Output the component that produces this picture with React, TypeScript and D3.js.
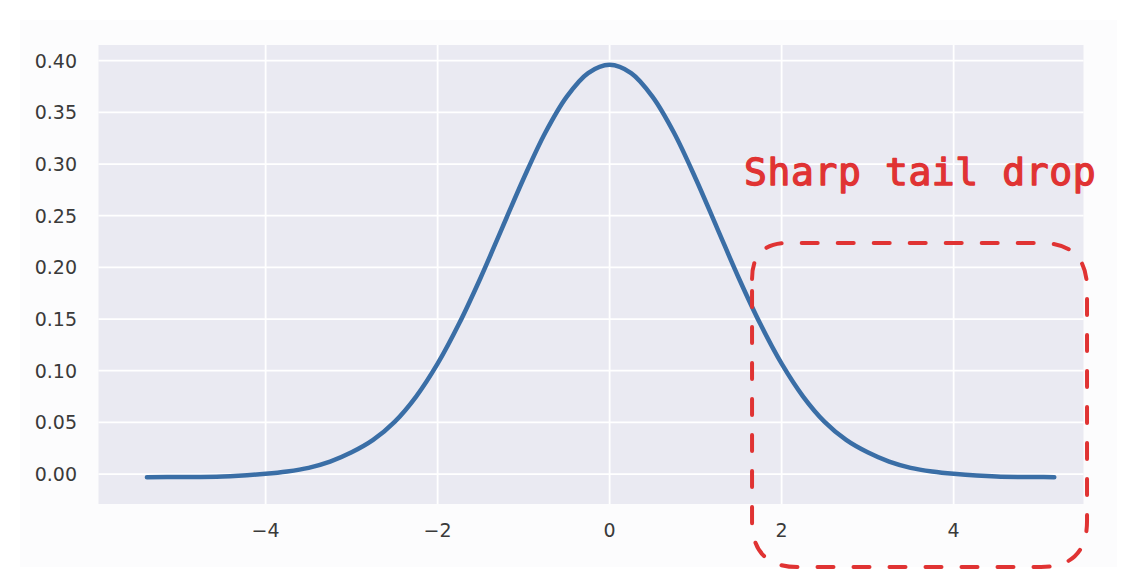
import React from "react";
import * as d3 from "d3";

const xs = [-5.38, -5.0, -4.5, -4.0, -3.75, -3.5, -3.25, -3.0, -2.75, -2.5, -2.25, -2.0, -1.75, -1.5, -1.25, -1.0, -0.75, -0.5, -0.25, 0.0, 0.25, 0.5, 0.75, 1.0, 1.25, 1.5, 1.75, 2.0, 2.25, 2.5, 2.75, 3.0, 3.25, 3.5, 3.75, 4.0, 4.5, 5.0, 5.17];
const ys = [-0.003, -0.0029, -0.0024, 0.0003, 0.0025, 0.006, 0.012, 0.021, 0.033, 0.0505, 0.075, 0.1068, 0.1456, 0.19, 0.238, 0.286, 0.33, 0.365, 0.388, 0.396, 0.388, 0.365, 0.33, 0.286, 0.238, 0.19, 0.1456, 0.1068, 0.075, 0.0505, 0.033, 0.021, 0.012, 0.006, 0.0025, 0.0003, -0.0024, -0.0029, -0.003];

const xTicks = [-4, -2, 0, 2, 4];
const yTicks = [0, 0.05, 0.1, 0.15, 0.2, 0.25, 0.3, 0.35, 0.4];

const xDomain = [-5.943, 5.51];
const yDomain = [-0.029, 0.4152];

const annotationText = "Sharp tail drop";
const annotationTextPos = { x: 1.563, y: 0.2797 };
const boxData = { x0: 1.656, x1: 5.551, y0: 0.2236, y1: -0.09 };

export default function App() {
  const W = 1136, H = 588;
  const left = 98.5, right = 1083.5, top = 45, bottom = 504;
  const x = d3.scaleLinear().domain(xDomain).range([left, right]);
  const y = d3.scaleLinear().domain(yDomain).range([bottom, top]);
  const pts: [number, number][] = xs.map((v, i) => [v, ys[i]]);
  const line = d3.line<[number, number]>().x(d => x(d[0])).y(d => y(d[1])).curve(d3.curveCatmullRom.alpha(0.5));

  const bx0 = x(boxData.x0), bx1 = x(boxData.x1), by0 = y(boxData.y0), by1 = y(boxData.y1);
  const rTL = 36, rTR = 46, rBR = 46, rBL = 46;
  const boxPath = `M${bx0},${by0 + rTL} Q${bx0},${by0} ${bx0 + rTL},${by0} L${bx1 - rTR},${by0} Q${bx1},${by0} ${bx1},${by0 + rTR} L${bx1},${by1 - rBR} Q${bx1},${by1} ${bx1 - rBR},${by1} L${bx0 + rBL},${by1} Q${bx0},${by1} ${bx0},${by1 - rBL} Z`;

  const fmt = d3.format(".2f");
  const fmtX = (v: number) => (v < 0 ? "\u2212" + Math.abs(v) : String(v));

  return (
    <svg width={W} height={H} style={{ position: "absolute", left: 0, top: 0, display: "block", background: "#ffffff" }}>
      <rect x={20} y={20} width={1097} height={547} fill="#fcfcfd" />
      <rect x={left} y={top} width={right - left} height={bottom - top} fill="#eaeaf2" />
      {yTicks.map(t => (
        <line key={"gy" + t} x1={left} x2={right} y1={y(t)} y2={y(t)} stroke="#ffffff" strokeWidth={1.8} />
      ))}
      {xTicks.map(t => (
        <line key={"gx" + t} x1={x(t)} x2={x(t)} y1={top} y2={bottom} stroke="#ffffff" strokeWidth={1.8} />
      ))}
      {yTicks.map(t => (
        <text key={"ty" + t} x={77} y={y(t)} textAnchor="end" dominantBaseline="central" fontFamily="DejaVu Sans" fontSize={19} fill="#3a3a3a">{fmt(t)}</text>
      ))}
      {xTicks.map(t => (
        <text key={"tx" + t} x={x(t)} y={530} textAnchor="middle" dominantBaseline="central" fontFamily="DejaVu Sans" fontSize={19} fill="#3a3a3a">{fmtX(t)}</text>
      ))}
      <path d={line(pts) || ""} fill="none" stroke="#3a6ea6" strokeWidth={4.5} strokeLinecap="round" strokeLinejoin="round" />
      <text x={x(annotationTextPos.x)} y={y(annotationTextPos.y)} fontFamily="DejaVu Sans Mono" fontSize={38} letterSpacing={0.6} fill="#e03333" stroke="#e03333" strokeWidth={1.3} strokeLinejoin="round">{annotationText}</text>
      <path d={boxPath} fill="none" stroke="#e03333" strokeWidth={4} strokeDasharray="16 20" strokeLinecap="round" />
    </svg>
  );
}
